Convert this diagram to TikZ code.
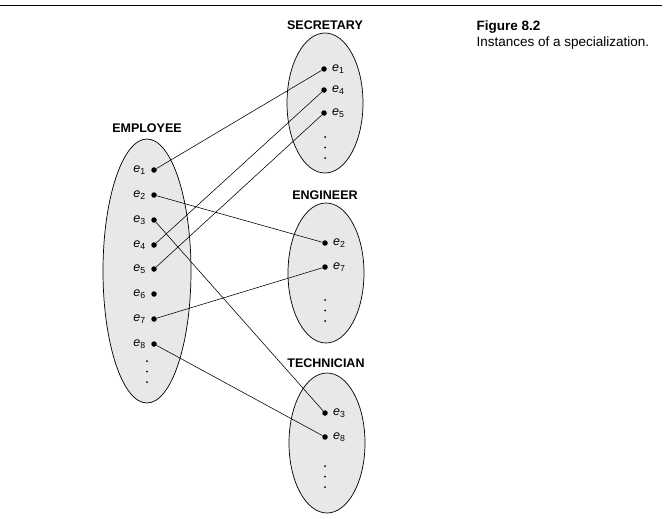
\documentclass[tikz,border=0pt]{standalone}
\usepackage{fontspec}
\setmainfont{Liberation Sans}
\usepackage{tikz}
\usetikzlibrary{shapes.geometric}

\begin{document}
\begin{tikzpicture}[x=1pt,y=-1pt]
\tikzstyle{set}=[ellipse,draw,line width=0.25mm,fill=gray!18,inner sep=0pt]
\tikzstyle{setname}=[font=\fontsize{12.5}{14}\selectfont\bfseries]
\tikzstyle{member}=[circle,fill=black,inner sep=0pt,minimum size=5.5pt]
\tikzstyle{more}=[circle,fill=black,inner sep=0pt,minimum size=2pt]
\tikzstyle{elabel}=[font=\fontsize{12.5}{14}\selectfont,inner sep=1pt]
\tikzstyle{link}=[line width=0.2mm]
\useasboundingbox (0,0) rectangle (672,519);
\draw[line width=0.3mm] (0,5) -- (662,5);

% caption
\node[anchor=west,font=\fontsize{13.5}{15}\selectfont\bfseries] (fig) at (473,27) {Figure 8.2};
\node[anchor=west,font=\fontsize{13.5}{15}\selectfont] (caption) at (473,43) {Instances of a specialization.};

% the four sets
\node[set,minimum width=88pt,minimum height=264pt] (employee) at (147,271) {};
\node[set,minimum width=76pt,minimum height=140pt] (secretary) at (325,103) {};
\node[set,minimum width=76pt,minimum height=140pt] (engineer) at (326,273) {};
\node[set,minimum width=76pt,minimum height=140pt] (technician) at (327,443) {};
\node[setname] (employee-n) at (147,128) {EMPLOYEE};
\node[setname] (secretary-n) at (325,25) {SECRETARY};
\node[setname] (engineer-n) at (325,195) {ENGINEER};
\node[setname] (technician-n) at (326,363) {TECHNICIAN};

% members
\foreach \i/\y in {1/170,2/195,3/220,4/245,5/269,6/294,7/319,8/344}{
  \node[member] (emp\i) at (154,\y) {};
  \node[elabel,anchor=east] (emp\i-l) at (147,\y) {\textit{e}\textsubscript{\i}};
}
\foreach \s/\i/\x/\y in {sec/1/324/69,sec/4/324/90,sec/5/324/113,eng/2/325/243,eng/7/325/267,tec/3/325/413,tec/8/325/437}{
  \node[member] (\s\i) at (\x,\y) {};
  \node[elabel,anchor=west] (\s\i-l) at (\x+7,\y) {\textit{e}\textsubscript{\i}};
}
\foreach \s/\x/\y in {emp/147/361,sec/325/137,eng/325/300,tec/325/466}{
  \node[more] (\s-a) at (\x,\y) {};
  \node[more] (\s-b) at (\x,\y+10.5) {};
  \node[more] (\s-c) at (\x,\y+21) {};
}

% links
\draw[link] (emp1) -- (sec1);
\draw[link] (emp4) -- (sec4);
\draw[link] (emp5) -- (sec5);
\draw[link] (emp2) -- (eng2);
\draw[link] (emp7) -- (eng7);
\draw[link] (emp3) -- (tec3);
\draw[link] (emp8) -- (tec8);
\end{tikzpicture}
\end{document}
